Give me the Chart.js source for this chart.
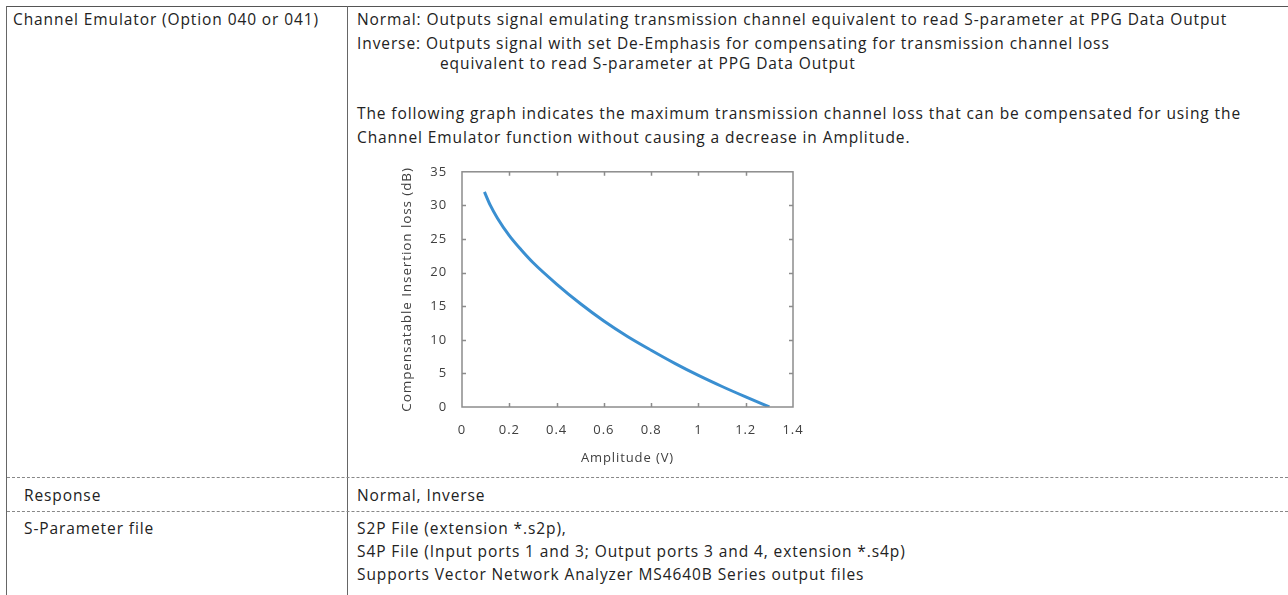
<!DOCTYPE html>
<html>
<head>
<meta charset="utf-8">
<script src="https://cdn.jsdelivr.net/npm/chart.js@4/dist/chart.umd.min.js"></script>
<style>
  html, body { margin: 0; padding: 0; background: #fff; }
  body { width: 1288px; height: 595px; position: relative; overflow: hidden;
         font-family: "Open Sans", "Noto Sans", sans-serif; font-size: 15.5px; letter-spacing: 0.9px; color: #222; }
  .ln { position: absolute; white-space: nowrap; line-height: 20px; }
  .hline { position: absolute; left: 6px; right: 0; height: 0; }
  .vline { position: absolute; top: 6px; bottom: 0; width: 0; border-left: 1px solid #666; }
  #chartBox { position: absolute; left: 380px; top: 149px; width: 440px; height: 331px; }
</style>
</head>
<body>
<!-- table frame -->
<div class="hline" style="top:6px;border-top:1px solid #555;"></div>
<div class="vline" style="left:6px;"></div>
<div class="vline" style="left:347px;"></div>
<div class="hline" style="top:477px;left:7px;border-top:1px dashed #888;"></div>
<div class="hline" style="top:511px;left:7px;border-top:1px dashed #888;"></div>

<!-- row texts -->
<div class="ln" style="left:13px;top:9px;">Channel Emulator (Option 040 or 041)</div>
<div class="ln" style="left:357px;top:9px;">Normal: Outputs signal emulating transmission channel equivalent to read S-parameter at PPG Data Output</div>
<div class="ln" style="left:357px;top:33px;">Inverse: Outputs signal with set De-Emphasis for compensating for transmission channel loss</div>
<div class="ln" style="left:440px;top:53px;">equivalent to read S-parameter at PPG Data Output</div>
<div class="ln" style="left:357px;top:103px;">The following graph indicates the maximum transmission channel loss that can be compensated for using the</div>
<div class="ln" style="left:357px;top:127px;">Channel Emulator function without causing a decrease in Amplitude.</div>

<div class="ln" style="left:24px;top:485px;">Response</div>
<div class="ln" style="left:357px;top:485px;">Normal, Inverse</div>
<div class="ln" style="left:24px;top:518px;">S-Parameter file</div>
<div class="ln" style="left:357px;top:518px;">S2P File (extension *.s2p),</div>
<div class="ln" style="left:357px;top:541px;">S4P File (Input ports 1 and 3; Output ports 3 and 4, extension *.s4p)</div>
<div class="ln" style="left:357px;top:564px;">Supports Vector Network Analyzer MS4640B Series output files</div>

<div id="chartBox"><canvas id="lossChart"></canvas></div>

<script>
// values
const amplitudeV = [0.095, 0.12, 0.15, 0.2, 0.25, 0.3, 0.4, 0.5, 0.6, 0.7, 0.8, 0.9, 1.0, 1.1, 1.2, 1.3];
const lossDb     = [32.0, 30.0, 28.1, 25.5, 23.4, 21.5, 18.3, 15.4, 12.8, 10.5, 8.45, 6.5, 4.7, 3.05, 1.5, 0];
const xTicks = [0, 0.2, 0.4, 0.6, 0.8, 1, 1.2, 1.4];
const yTicks = [0, 5, 10, 15, 20, 25, 30, 35];

const FRAME = '#8c8c8c';
const TXT = '#404040';
const FONT = '"Open Sans", "Noto Sans", sans-serif';

// reference text is set a bit wider than Open Sans
const spacingPlugin = {
    id: 'spacing',
    beforeDraw(chart) { chart.ctx.letterSpacing = '0.9px'; }
};

// plot frame with inward tick marks on all four sides
const framePlugin = {
    id: 'frame',
    afterDatasetsDraw(chart) {
        const { ctx, chartArea: a, scales } = chart;
        ctx.save();
        ctx.strokeStyle = FRAME;
        ctx.lineWidth = 1.5;
        ctx.strokeRect(a.left, a.top, a.right - a.left, a.bottom - a.top);
        ctx.beginPath();
        xTicks.slice(1, -1).forEach(v => {
            const px = Math.round(scales.x.getPixelForValue(v)) + 0.5;
            ctx.moveTo(px, a.bottom); ctx.lineTo(px, a.bottom - 4);
            ctx.moveTo(px, a.top); ctx.lineTo(px, a.top + 4);
        });
        yTicks.slice(1, -1).forEach(v => {
            const py = Math.round(scales.y.getPixelForValue(v)) + 0.5;
            ctx.moveTo(a.left, py); ctx.lineTo(a.left + 4, py);
            ctx.moveTo(a.right, py); ctx.lineTo(a.right - 4, py);
        });
        ctx.stroke();
        ctx.restore();
    }
};

const points = amplitudeV.map((x, i) => ({ x, y: lossDb[i] }));

new Chart(document.getElementById('lossChart'), {
    type: 'line',
    data: {
        datasets: [{
            data: points,
            borderColor: '#3a8fd1',
            borderWidth: 3,
            pointRadius: 0,
            cubicInterpolationMode: 'monotone',
            fill: false
        }]
    },
    options: {
        responsive: true,
        maintainAspectRatio: false,
        animation: false,
        layout: { padding: { top: 1, right: 27, left: 0, bottom: 0 } },
        plugins: { legend: { display: false }, tooltip: { enabled: false } },
        scales: {
            x: {
                type: 'linear', min: 0, max: 1.4,
                afterBuildTicks: s => { s.ticks = xTicks.map(v => ({ value: v })); },
                afterFit: s => { s.height = 73; },
                grid: { display: false, drawTicks: false },
                border: { display: false },
                ticks: { padding: 15, color: TXT, font: { family: FONT, size: 13 }, maxRotation: 0,
                         callback: v => String(Math.round(v * 10) / 10) },
                title: { display: true, text: 'Amplitude (V)', color: TXT,
                         font: { family: FONT, size: 13 }, padding: { top: 0, bottom: 14 } }
            },
            y: {
                type: 'linear', min: 0, max: 35,
                afterBuildTicks: s => { s.ticks = yTicks.map(v => ({ value: v })); },
                afterFit: s => { s.width = 82; },
                grid: { display: false, drawTicks: false },
                border: { display: false },
                ticks: { padding: 15, color: TXT, font: { family: FONT, size: 13 } },
                title: { display: true, text: 'Compensatable Insertion loss (dB)', color: TXT,
                         font: { family: FONT, size: 13.5 }, padding: { top: 19, bottom: 0 } }
            }
        }
    },
    plugins: [spacingPlugin, framePlugin]
});
</script>
</body>
</html>
